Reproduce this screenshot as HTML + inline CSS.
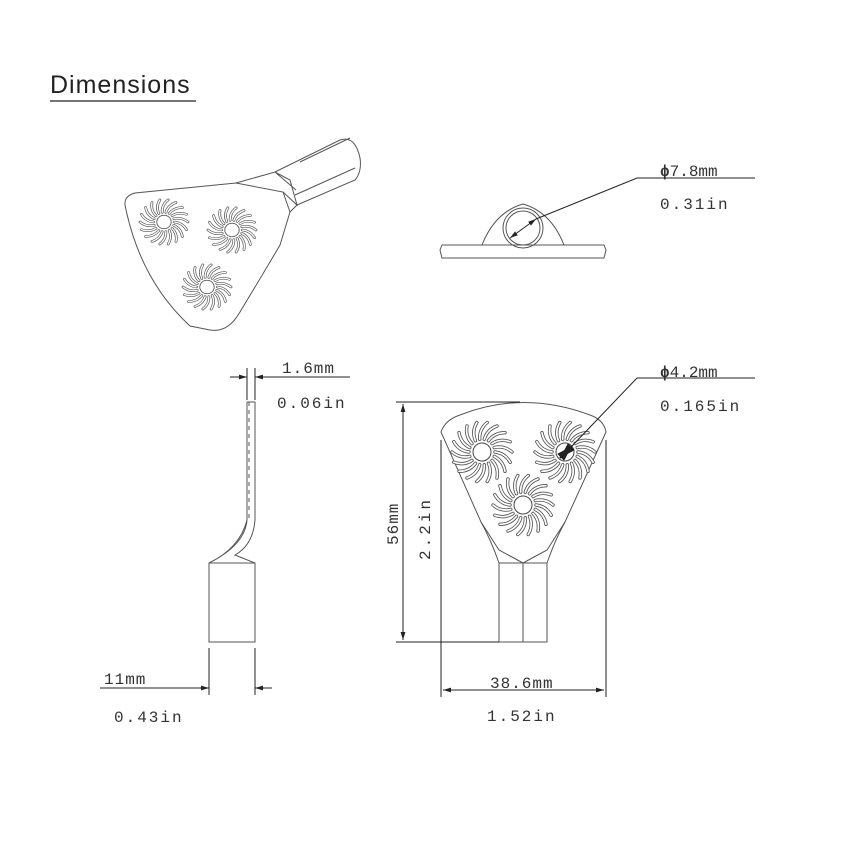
<!DOCTYPE html>
<html><head><meta charset="utf-8"><style>
body{margin:0;background:#fff}
svg{display:block}
text{font-family:"Liberation Mono",monospace;fill:#333;font-size:16px}
</style></head><body>
<svg id="s" width="860" height="860" viewBox="0 0 860 860" xmlns="http://www.w3.org/2000/svg">
<defs>
<marker id="a" viewBox="0 0 10 10" refX="10" refY="5" markerWidth="8" markerHeight="8" orient="auto-start-reverse"><path d="M0,2 L10,5 L0,8z" fill="#222"/></marker>
<g id="sf"><g id="slots"></g><circle r="9" fill="#fff" stroke="#444" stroke-width="1"/></g>
</defs>
<text x="50" y="93" style="font-family:'Liberation Sans',sans-serif;font-size:25px;fill:#222;letter-spacing:1px">Dimensions</text>
<line x1="50" y1="101" x2="196" y2="101" stroke="#222" stroke-width="1.2"/>

<g fill="none" stroke="#555" stroke-width="1">
<path d="M125,205 Q124,196 135,193 L236,183 L283,192 L290,212 L280,245 L270,262 L240,312 Q228,333 210,330 L190,326 Q140,280 125,205z" fill="#fff"/>
<path d="M236,183 L275,172 L290,180 L297,205 L283,192 M275,172 L296,190 M290,212 L297,205"/>
<path d="M275,172 L340,140 Q355,135 360,158 Q362,172 355,180 L297,205 M300,162 L350,138 M295,195 L355,168"/>
<use href="#sf" transform="translate(164,222) scale(0.8,0.75)"/>
<use href="#sf" transform="translate(232,230) scale(0.8,0.75)"/>
<use href="#sf" transform="translate(207,287) scale(0.8,0.75)"/>

<path d="M440,250 L442,245 L482,245 Q495,212 523,204 Q551,212 564,245 L604,245 L606,250 L604,258 L442,258z" fill="#fff"/>
<circle cx="523" cy="228" r="20"/><circle cx="523" cy="228" r="17"/>
<line x1="482" y1="245" x2="564" y2="245"/>

<path d="M247,402 L255,402 L255,520 Q253,545 235,555 L255,563 M247,402 L247,520 Q245,545 209,563 M247,520 Q240,548 209,563"/>
<rect x="209" y="563" width="46" height="79"/>
<line x1="249" y1="402" x2="249" y2="520" stroke-dasharray="4 4"/>

<path d="M441,432 Q445,420 460,415 Q523,390 590,415 Q604,420 606,432 L565,522 Q555,540 547,563 L499,563 Q491,540 481,522z" fill="#fff"/>
<path d="M481,522 L499,550 L523,563 M565,522 L547,550 L523,563 M523,563 L523,642"/>
<rect x="499" y="563" width="48" height="79"/>
<use href="#sf" transform="translate(482,452)"/>
<use href="#sf" transform="translate(565,452)"/>
<use href="#sf" transform="translate(523,505)"/>
</g>

<g stroke="#222" stroke-width="1" fill="none">
<line x1="510" y1="238" x2="536" y2="219" marker-start="url(#a)" marker-end="url(#a)"/>
<polyline points="536,219 637,178 755,178"/>
<line x1="560" y1="458" x2="572" y2="446" marker-start="url(#a)" marker-end="url(#a)" stroke-width="2"/>
<polyline points="572,446 637,378 755,378"/>
<line x1="247" y1="368" x2="247" y2="400"/><line x1="255" y1="368" x2="255" y2="400"/>
<line x1="230" y1="377" x2="247" y2="377" marker-end="url(#a)"/>
<line x1="272" y1="377" x2="255" y2="377" marker-end="url(#a)"/>
<line x1="255" y1="377" x2="350" y2="377"/>
<line x1="209" y1="648" x2="209" y2="695"/><line x1="255" y1="648" x2="255" y2="695"/>
<line x1="100" y1="688" x2="209" y2="688" marker-end="url(#a)"/>
<line x1="272" y1="688" x2="255" y2="688" marker-end="url(#a)"/>
<line x1="396" y1="402" x2="520" y2="402"/><line x1="396" y1="642" x2="499" y2="642"/>
<line x1="403" y1="404" x2="403" y2="640" marker-start="url(#a)" marker-end="url(#a)"/>
<line x1="441" y1="440" x2="441" y2="697"/><line x1="606" y1="440" x2="606" y2="697"/>
<line x1="443" y1="690" x2="604" y2="690" marker-start="url(#a)" marker-end="url(#a)"/>
</g>

<text x="660" y="176"><tspan font-weight="bold">ϕ</tspan>7.8mm</text>
<text x="660" y="209" letter-spacing="2">0.31in</text>
<text x="660" y="377"><tspan font-weight="bold">ϕ</tspan>4.2mm</text>
<text x="660" y="411" letter-spacing="2">0.165in</text>
<text x="282" y="373" letter-spacing="1">1.6mm</text>
<text x="277" y="408" letter-spacing="2">0.06in</text>
<text x="104" y="684" letter-spacing="1">11mm</text>
<text x="114" y="722" letter-spacing="2">0.43in</text>
<text x="490" y="688" letter-spacing="1">38.6mm</text>
<text x="487" y="721" letter-spacing="2">1.52in</text>
<text transform="translate(398,545) rotate(-90)" letter-spacing="1">56mm</text>
<text transform="translate(430,560) rotate(-90)" letter-spacing="3">2.2in</text>
</svg>
<script>
var g=document.getElementById('slots'),h='';
for(var i=0;i<18;i++){var t=i*Math.PI*2/18;
function p(r,o){return (r*Math.cos(t+o)).toFixed(1)+','+(r*Math.sin(t+o)).toFixed(1)}
var d='M'+p(13,0)+' Q'+p(23,0.05)+' '+p(30,0.35);
h+='<path d="'+d+'" stroke="#555" stroke-width="3.4" stroke-linecap="round" fill="none"/><path d="'+d+'" stroke="#fff" stroke-width="1.7" stroke-linecap="round" fill="none"/>';}
g.innerHTML=h;
</script>
</body></html>
